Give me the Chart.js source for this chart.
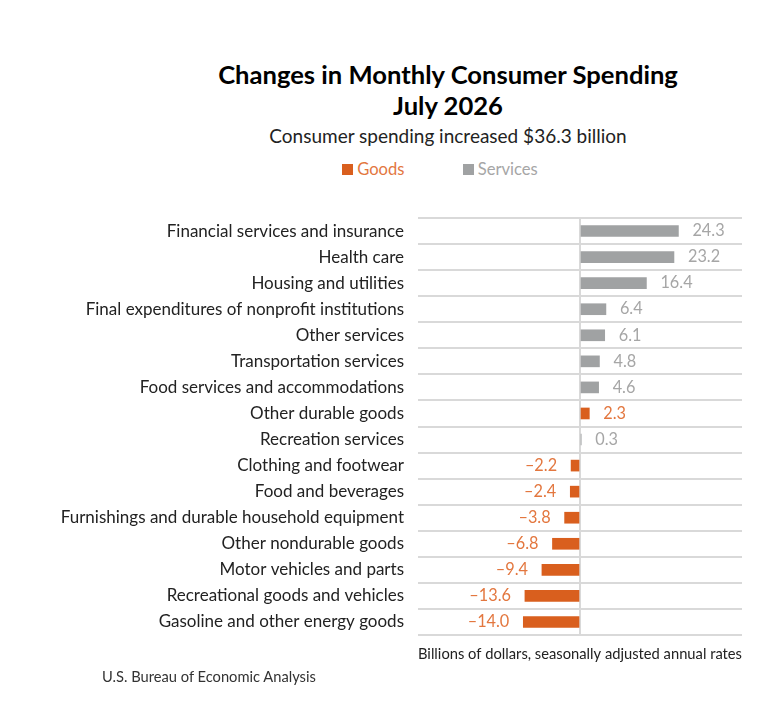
<!DOCTYPE html>
<html>
<head>
<meta charset="utf-8">
<script src="https://cdn.jsdelivr.net/npm/chart.js@4.4.1/dist/chart.umd.min.js"></script>
<style>
  body { margin: 0; background: #fff; font-family: Lato, "Open Sans", sans-serif; }
  #wrap { position: relative; width: 773px; height: 722px; overflow: hidden; }
  .head { position: absolute; left: 148px; width: 600px; text-align: center; color: #000; }
  #t1 { top: 59px; font-size: 25.6px; font-weight: bold; }
  #t2 { top: 90px; font-size: 25.6px; font-weight: bold; }
  #sub { top: 124px; font-size: 19px; color: #222; }
  #legend { top: 159px; left: 140px; font-size: 16.6px; }
  #legend span.item { display: inline-block; margin: 0 27px; }
  #legend i { display: inline-block; width: 11px; height: 11px; margin-right: 4px; vertical-align: 0px; }
  #source { position: absolute; left: 102px; top: 667px; font-size: 14.7px; color: #333; }
  #box { position: absolute; left: 0; top: 200px; width: 773px; height: 470px; }
</style>
</head>
<body>
<div id="wrap">
  <div class="head" id="t1">Changes in Monthly Consumer Spending</div>
  <div class="head" id="t2">July 2026</div>
  <div class="head" id="sub">Consumer spending increased $36.3 billion</div>
  <div class="head" id="legend">
    <span class="item" style="color:#E3773F"><i style="background:#D95F1E"></i>Goods</span>
    <span class="item" style="color:#A6A6A6"><i style="background:#A0A2A3"></i>Services</span>
  </div>
  <div id="box"><canvas id="chart"></canvas></div>
  <div id="source">U.S. Bureau of Economic Analysis</div>
</div>
<script>
var categories = [
  "Financial services and insurance",
  "Health care",
  "Housing and utilities",
  "Final expenditures of nonprofit institutions",
  "Other services",
  "Transportation services",
  "Food services and accommodations",
  "Other durable goods",
  "Recreation services",
  "Clothing and footwear",
  "Food and beverages",
  "Furnishings and durable household equipment",
  "Other nondurable goods",
  "Motor vehicles and parts",
  "Recreational goods and vehicles",
  "Gasoline and other energy goods"
];
var changes = [24.3, 23.2, 16.4, 6.4, 6.1, 4.8, 4.6, 2.3, 0.3, -2.2, -2.4, -3.8, -6.8, -9.4, -13.6, -14.0];
var groups = ["S", "S", "S", "S", "S", "S", "S", "G", "S", "G", "G", "G", "G", "G", "G", "G"];

var goodsValues = changes.map(function (v, i) { return groups[i] === "G" ? v : null; });
var servicesValues = changes.map(function (v, i) { return groups[i] === "S" ? v : null; });

var labelColors = ["#E3773F", "#A6A6A6"];

// Writes the value next to the end of each bar.
var valueLabels = {
  id: "valueLabels",
  afterDatasetsDraw: function (chart) {
    var ctx = chart.ctx;
    ctx.save();
    ctx.font = "16.3px Lato, 'Open Sans', sans-serif";
    ctx.textBaseline = "middle";
    chart.data.datasets.forEach(function (ds, di) {
      var meta = chart.getDatasetMeta(di);
      meta.data.forEach(function (bar, i) {
        var v = ds.data[i];
        if (v === null) return;
        ctx.fillStyle = labelColors[di];
        var text = v < 0 ? "\u2013" + Math.abs(v).toFixed(1) : v.toFixed(1);
        if (v >= 0) {
          ctx.textAlign = "left";
          ctx.fillText(text, bar.x + 14, bar.y);
        } else {
          ctx.textAlign = "right";
          ctx.fillText(text, bar.x - 14, bar.y);
        }
      });
    });
    ctx.restore();
  }
};

var ctx = document.getElementById("chart").getContext("2d");
var myChart = new Chart(ctx, {
  type: "bar",
  data: {
    labels: categories,
    datasets: [{
      label: "Goods",
      data: goodsValues,
      backgroundColor: "#D95F1E",
      barThickness: 11
    }, {
      label: "Services",
      data: servicesValues,
      backgroundColor: "#A0A2A3",
      barThickness: 11
    }]
  },
  options: {
    indexAxis: "y",
    responsive: true,
    maintainAspectRatio: false,
    animation: false,
    layout: { padding: { top: 18, right: 31, left: 0, bottom: 0 } },
    plugins: {
      legend: { display: false },
      tooltip: { enabled: false }
    },
    scales: {
      x: {
        stacked: true,
        min: -40,
        max: 40,
        ticks: { display: false, stepSize: 10 },
        border: { display: false },
        grid: {
          drawTicks: false,
          lineWidth: 2,
          color: function (c) { return c.tick && c.tick.value === 0 ? "#D9D9D9" : "rgba(0,0,0,0)"; }
        },
        title: {
          display: true,
          text: "Billions of dollars, seasonally adjusted annual rates",
          align: "end",
          color: "#222",
          font: { family: "Lato, 'Open Sans', sans-serif", size: 15 },
          padding: { top: 0, bottom: 7 }
        },
        afterFit: function (scale) {
          scale.height = 35;
          scale.paddingLeft = 0;
          scale.paddingRight = 0;
        }
      },
      y: {
        stacked: true,
        border: { display: false },
        grid: { offset: true, drawTicks: false, lineWidth: 2, color: "#D9D9D9" },
        ticks: {
          color: "#222",
          padding: 14,
          font: { family: "Lato, 'Open Sans', sans-serif", size: 17 }
        },
        afterFit: function (scale) {
          scale.width = 418;
          scale.paddingTop = 0;
          scale.paddingBottom = 0;
        }
      }
    }
  },
  plugins: [valueLabels]
});
</script>
</body>
</html>
